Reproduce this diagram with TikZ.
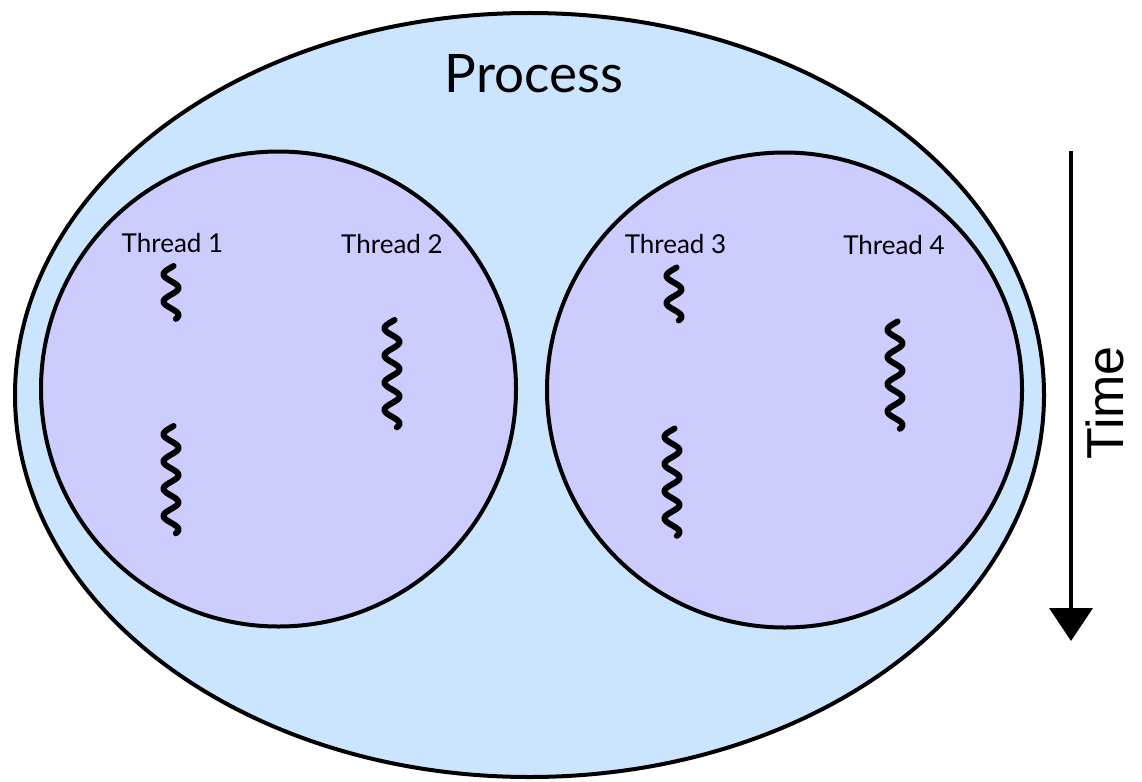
\documentclass[tikz,border=0pt]{standalone}
\usepackage{fontspec}
\setmainfont{Lato}
\newfontfamily\timefont{Liberation Sans}
\usetikzlibrary{arrows.meta,shapes.geometric}
\definecolor{procfill}{HTML}{CCE5FF}
\definecolor{thrfill}{HTML}{CCCCFF}
\tikzset{
  procshape/.style={draw=black, line width=4pt, fill=procfill},
  grpshape/.style={draw=black, line width=4pt, fill=thrfill},
  squigline/.style={draw=black, line width=6pt, line cap=round, line join=round},
  thrlabel/.style={font=\fontsize{26}{28}\selectfont, anchor=base, inner sep=0pt},
}
\newcommand\squigsmall[3]{\draw[squigline] plot[domain=-200:500, samples=80, smooth] ({#2+7.5*sin(\x)}, {#3+(\x+200)/180*13.6});}
\newcommand\squiglarge[3]{\draw[squigline] plot[domain=-200:1220, samples=160, smooth] ({#2+7.5*sin(\x)}, {#3+(\x+200)/180*13.6});}
\begin{document}
\begin{tikzpicture}[x=1pt, y=-1pt]
\useasboundingbox (0,0) rectangle (1142,781);
\node[procshape, ellipse, minimum width=1029pt, minimum height=764pt, inner sep=0pt] (proc) at (529.5,395) {};
\node[font=\fontsize{53}{56}\selectfont, anchor=base, inner sep=0pt] (proclabel) at (534,93) {Process};
\node[grpshape, circle, minimum size=475pt, inner sep=0pt] (left) at (278.5,389) {};
\node[grpshape, circle, minimum size=475pt, inner sep=0pt] (right) at (784.5,390) {};
\node[thrlabel] (t1) at (172.5,252) {Thread 1};
\node[thrlabel] (t2) at (392,253) {Thread 2};
\node[thrlabel] (t3) at (675.5,253) {Thread 3};
\node[thrlabel] (t4) at (894,254) {Thread 4};
\squigsmall{a}{171}{266}
\squiglarge{b}{171}{426}
\squiglarge{c}{392}{320}
\squigsmall{d}{674}{267.5}
\squiglarge{e}{672}{428.5}
\squiglarge{f}{895}{321.5}
\coordinate (tstart) at (1071,151);
\coordinate (tend) at (1071,641);
\draw[line width=4pt, -{Triangle[width=43pt, length=33pt]}] (tstart) -- (tend);
\node[font=\timefont\fontsize{52}{55}\selectfont, rotate=90, inner sep=0pt] (time) at (1105,403) {Time};
\end{tikzpicture}
\end{document}
